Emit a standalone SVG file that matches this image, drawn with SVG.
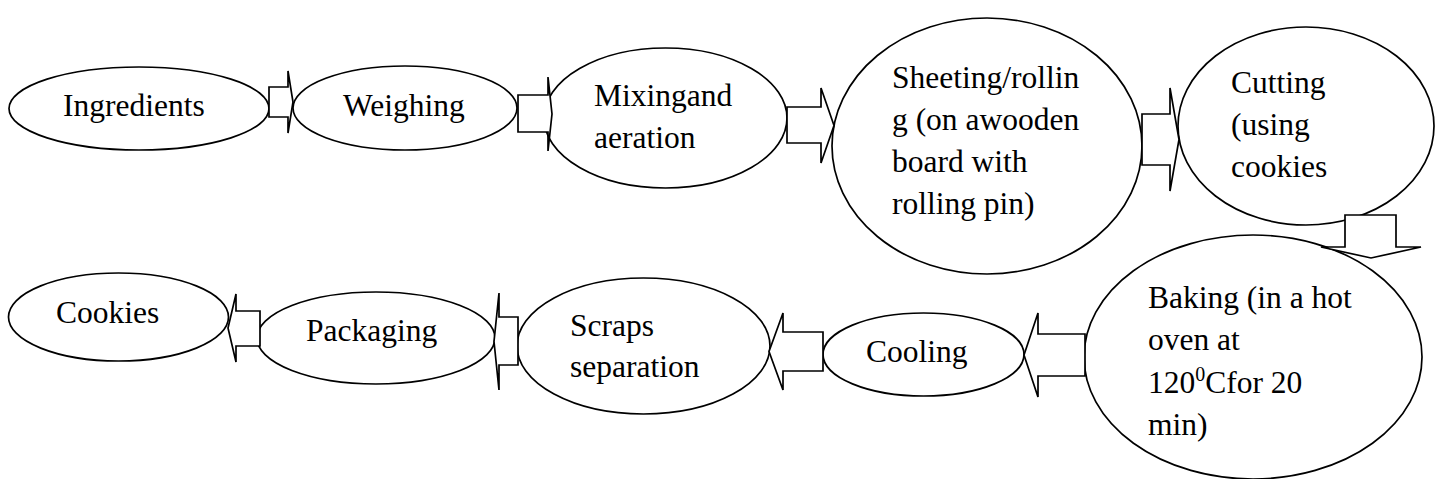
<svg xmlns="http://www.w3.org/2000/svg" width="1437" height="479" viewBox="0 0 1437 479">
  <style>
    .node ellipse { fill: #ffffff; stroke: #000000; stroke-width: 1.7; }
    .node text { font-size: 31.5px; fill: #000000; }
    .arrow { fill: #ffffff; stroke: #000000; stroke-width: 1.7; stroke-linejoin: miter; }
    .sup { font-size: 20px; }
  </style>
  <rect x="0" y="0" width="1437" height="479" fill="#ffffff"/>

  <!-- process steps; all labels share one serif face -->
  <g font-family="'Times New Roman', 'Liberation Serif', Tinos, serif">
  <g id="ingredients" class="node">
    <ellipse cx="139" cy="108.5" rx="130" ry="41.5"/>
    <text x="63" y="116">Ingredients</text>
  </g>
  <g id="weighing" class="node">
    <ellipse cx="405" cy="108" rx="112" ry="42"/>
    <text x="343" y="116">Weighing</text>
  </g>
  <g id="mixing" class="node">
    <ellipse cx="665.5" cy="118" rx="121.5" ry="70"/>
    <text x="594" y="106">Mixingand</text>
    <text x="594" y="148">aeration</text>
  </g>
  <g id="sheeting" class="node">
    <ellipse cx="987" cy="146" rx="155" ry="128"/>
    <text x="892" y="88">Sheeting/rollin</text>
    <text x="892" y="130">g (on awooden</text>
    <text x="892" y="172">board with</text>
    <text x="892" y="214">rolling pin)</text>
  </g>
  <g id="cutting" class="node">
    <ellipse cx="1306" cy="126" rx="128" ry="99"/>
    <text x="1231" y="93">Cutting</text>
    <text x="1231" y="135">(using</text>
    <text x="1231" y="177">cookies</text>
  </g>
  <g id="baking" class="node">
    <ellipse cx="1253" cy="357" rx="169" ry="122"/>
    <text x="1148" y="308">Baking (in a hot</text>
    <text x="1148" y="350">oven at</text>
    <text x="1148" y="393">120<tspan class="sup" dy="-12">0</tspan><tspan dy="12">Cfor 20</tspan></text>
    <text x="1148" y="435">min)</text>
  </g>
  <g id="cooling" class="node">
    <ellipse cx="923.5" cy="354.5" rx="100.5" ry="41.5"/>
    <text x="866" y="362">Cooling</text>
  </g>
  <g id="scraps" class="node">
    <ellipse cx="643.5" cy="346" rx="126.5" ry="68"/>
    <text x="570" y="336">Scraps</text>
    <text x="570" y="377">separation</text>
  </g>
  <g id="packaging" class="node">
    <ellipse cx="376" cy="338" rx="119" ry="46"/>
    <text x="306" y="341">Packaging</text>
  </g>
  <g id="cookies" class="node">
    <ellipse cx="118.5" cy="317" rx="110" ry="44"/>
    <text x="56" y="323">Cookies</text>
  </g>
  </g>

  <!-- block arrows between steps -->
  <g id="connectors">
    <polygon class="arrow" points="269,87 288,87 288,71 293,102 288,133 288,117 269,117"/>
    <polygon class="arrow" points="518,95 548,95 548,77 552,114 548,151 548,132 518,132"/>
    <polygon class="arrow" points="787,107 821,107 821,88 834,125.5 821,163 821,143 787,143"/>
    <polygon class="arrow" points="1142,114 1170,114 1170,88 1179,139.5 1170,191 1170,165 1142,165"/>
    <polygon class="arrow" points="1345,215 1396,215 1396,247 1421,247 1371,258 1321,247 1345,247"/>
    <polygon class="arrow" points="1085,334 1038,334 1038,313 1024,355 1038,397 1038,376 1085,376"/>
    <polygon class="arrow" points="823,332 783,332 783,313 769,351.5 783,390 783,371 823,371"/>
    <polygon class="arrow" points="518,317 499,317 499,293 494,341.5 499,390 499,365 518,365"/>
    <polygon class="arrow" points="260,311 236,311 236,294 228,328 236,362 236,346 260,346"/>
  </g>
</svg>
